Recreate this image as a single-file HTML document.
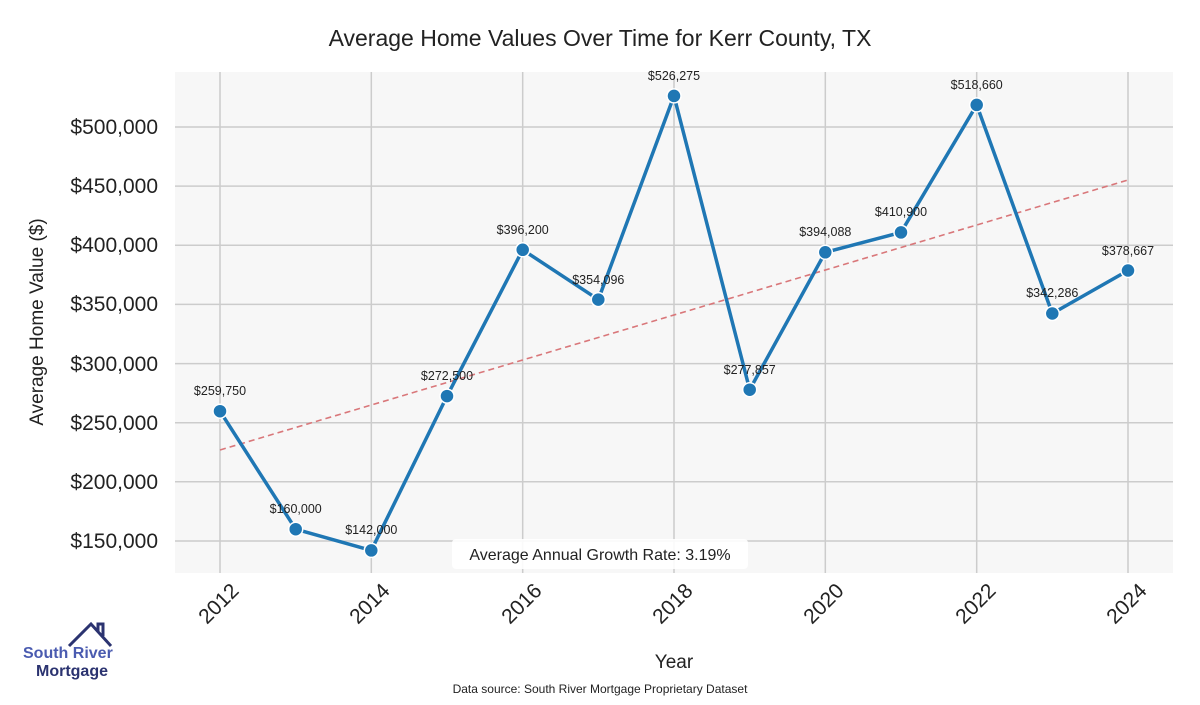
<!DOCTYPE html><html><head><style>body{margin:0;background:#fff}</style></head><body>
<svg width="1200" height="700" xmlns="http://www.w3.org/2000/svg" font-family="Liberation Sans, sans-serif">
<rect x="175" y="72" width="998" height="501" fill="#f7f7f7"/>
<g stroke="#cccccc" stroke-width="1.5">
<line x1="220" y1="72" x2="220" y2="573"/><line x1="371.3" y1="72" x2="371.3" y2="573"/><line x1="522.7" y1="72" x2="522.7" y2="573"/><line x1="674" y1="72" x2="674" y2="573"/><line x1="825.3" y1="72" x2="825.3" y2="573"/><line x1="976.7" y1="72" x2="976.7" y2="573"/><line x1="1128" y1="72" x2="1128" y2="573"/>
<line x1="175" y1="127" x2="1173" y2="127"/><line x1="175" y1="186.1" x2="1173" y2="186.1"/><line x1="175" y1="245.3" x2="1173" y2="245.3"/><line x1="175" y1="304.4" x2="1173" y2="304.4"/><line x1="175" y1="363.6" x2="1173" y2="363.6"/><line x1="175" y1="422.7" x2="1173" y2="422.7"/><line x1="175" y1="481.8" x2="1173" y2="481.8"/><line x1="175" y1="541" x2="1173" y2="541"/>
</g>
<text x="600" y="46" text-anchor="middle" font-size="23" fill="#222">Average Home Values Over Time for Kerr County, TX</text>
<g font-size="21" fill="#222" text-anchor="end">
<text x="158" y="134">$500,000</text><text x="158" y="193">$450,000</text><text x="158" y="252">$400,000</text><text x="158" y="311">$350,000</text><text x="158" y="371">$300,000</text><text x="158" y="430">$250,000</text><text x="158" y="489">$200,000</text><text x="158" y="548">$150,000</text>
</g>
<text transform="translate(43,322) rotate(-90)" text-anchor="middle" font-size="19" fill="#222">Average Home Value ($)</text>
<g font-size="21" fill="#222" text-anchor="end">
<text transform="translate(240,592) rotate(-45)">2012</text><text transform="translate(391,592) rotate(-45)">2014</text><text transform="translate(543,592) rotate(-45)">2016</text><text transform="translate(694,592) rotate(-45)">2018</text><text transform="translate(845,592) rotate(-45)">2020</text><text transform="translate(997,592) rotate(-45)">2022</text><text transform="translate(1148,592) rotate(-45)">2024</text>
</g>
<text x="674" y="668" text-anchor="middle" font-size="19" fill="#222">Year</text>
<text x="600" y="693" text-anchor="middle" font-size="12" fill="#222">Data source: South River Mortgage Proprietary Dataset</text>
<line x1="220" y1="450" x2="1128" y2="180" stroke="#d9777a" stroke-width="1.6" stroke-dasharray="6,4"/>
<polyline fill="none" stroke="#1f77b4" stroke-width="3.5" stroke-linejoin="round" points="220,411.2 295.7,529.2 371.3,550.4 447,396.1 522.7,249.8 598.3,299.6 674,95.9 749.7,389.7 825.3,252.3 901,232.4 976.7,104.9 1052.3,313.5 1128,270.5"/>
<g fill="#1f77b4" stroke="#fff" stroke-width="1.5">
<circle cx="220" cy="411.2" r="7"/><circle cx="295.7" cy="529.2" r="7"/><circle cx="371.3" cy="550.4" r="7"/><circle cx="447" cy="396.1" r="7"/><circle cx="522.7" cy="249.8" r="7"/><circle cx="598.3" cy="299.6" r="7"/><circle cx="674" cy="95.9" r="7"/><circle cx="749.7" cy="389.7" r="7"/><circle cx="825.3" cy="252.3" r="7"/><circle cx="901" cy="232.4" r="7"/><circle cx="976.7" cy="104.9" r="7"/><circle cx="1052.3" cy="313.5" r="7"/><circle cx="1128" cy="270.5" r="7"/>
</g>
<g font-size="12.5" fill="#222" text-anchor="middle">
<text x="220" y="395">$259,750</text><text x="295.7" y="513">$160,000</text><text x="371.3" y="534">$142,000</text><text x="447" y="380">$272,500</text><text x="522.7" y="234">$396,200</text><text x="598.3" y="284">$354,096</text><text x="674" y="80">$526,275</text><text x="749.7" y="374">$277,857</text><text x="825.3" y="236">$394,088</text><text x="901" y="216">$410,900</text><text x="976.7" y="89">$518,660</text><text x="1052.3" y="297">$342,286</text><text x="1128" y="255">$378,667</text>
</g>
<rect x="452" y="539" width="296" height="30" rx="4" fill="#fff" opacity="0.9"/>
<text x="600" y="560" text-anchor="middle" font-size="16" fill="#222">Average Annual Growth Rate: 3.19%</text>
<polyline points="69,646 91,624 111,646" fill="none" stroke="#2b3370" stroke-width="3"/>
<polyline points="98,631 98,624 103,624 103,636" fill="none" stroke="#2b3370" stroke-width="3"/>
<text x="23" y="658" font-size="16" font-weight="bold" fill="#4a5bb0">South River</text>
<text x="36" y="676" font-size="16" font-weight="bold" fill="#2b3370">Mortgage</text>
</svg>
</body></html>
